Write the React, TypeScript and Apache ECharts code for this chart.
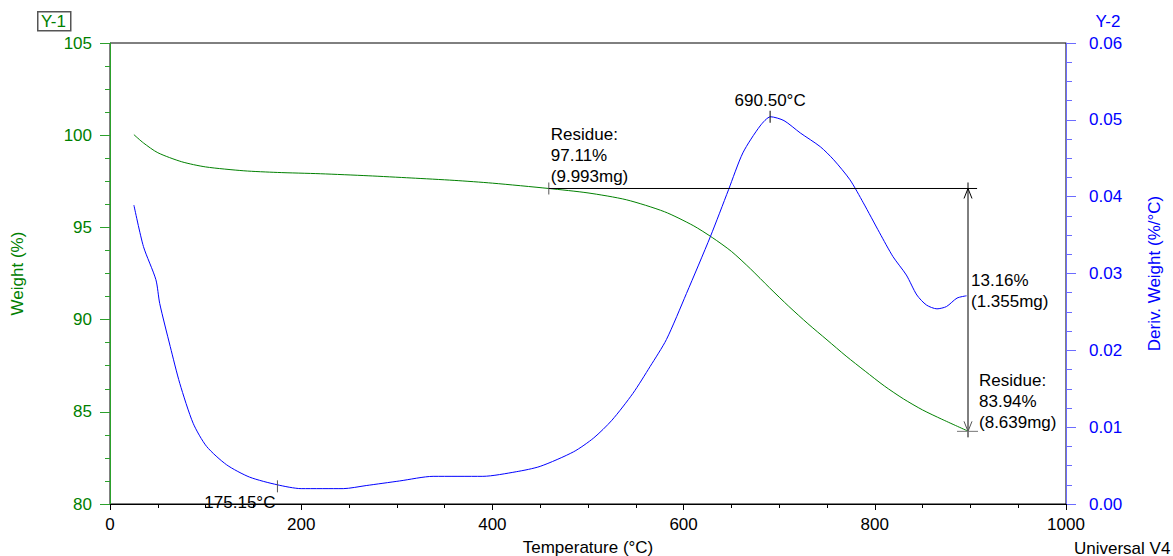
import React, { useEffect, useRef } from 'react';
import * as echarts from 'echarts';

const FONT = '"Liberation Sans", Arial, sans-serif';

// Weight (%) vs temperature (°C)
const weightTemps = [25, 35, 50, 75, 100, 140, 175, 220, 270, 315, 360, 400, 459, 500, 540, 580, 610, 630, 650, 670, 690, 710, 730, 750, 770, 790, 810, 830, 850, 870, 898];
const weightValues = [100.03, 99.58, 99.05, 98.56, 98.28, 98.07, 97.98, 97.91, 97.8, 97.68, 97.55, 97.4, 97.11, 96.87, 96.5, 95.85, 95.1, 94.45, 93.7, 92.75, 91.72, 90.72, 89.78, 88.9, 88.02, 87.2, 86.4, 85.7, 85.1, 84.6, 83.94];

// Deriv. weight (%/°C) vs temperature (°C)
const derivTemps = [25, 35, 48, 52, 63, 73, 87, 101, 122, 146, 175, 200, 244, 268, 303, 338, 390, 425, 450, 485, 506, 525, 547, 565, 582, 603, 628, 647, 662, 680, 691, 705, 722, 743, 757, 774, 788, 805, 819, 833, 844, 854, 865, 875, 886, 896];
const derivValues = [0.0389, 0.0335, 0.0292, 0.0261, 0.0205, 0.0157, 0.0105, 0.0075, 0.0051, 0.0035, 0.0025, 0.002, 0.002, 0.0024, 0.003, 0.0036, 0.0036, 0.0042, 0.0049, 0.0068, 0.0086, 0.0109, 0.0144, 0.0179, 0.0214, 0.0274, 0.0348, 0.0409, 0.0457, 0.0492, 0.0504, 0.0499, 0.0483, 0.0465, 0.0448, 0.0422, 0.0392, 0.0353, 0.0322, 0.0298, 0.0272, 0.0259, 0.0254, 0.0257, 0.0268, 0.0271];

// Annotations
const residueMark = [459, 97.11];
const residueLineEnd = 907;
const finalMark = [897.5, 83.94];
const residue1Text = 'Residue:\n97.11%\n(9.993mg)';
const lossText = '13.16%\n(1.355mg)';
const residue2Text = 'Residue:\n83.94%\n(8.639mg)';
const peakMark = [690.5, 0.0504];
const peakText = '690.50°C';
const minMark = [175.15, 0.0023];
const minText = '175.15°C';

const xTicks = { min: 0, max: 1000, interval: 200 };
const y1Ticks = { min: 80, max: 105, interval: 5 };
const y2Ticks = { min: 0, max: 0.06, interval: 0.01 };

const txt = (x: number, y: number, text: string, align: string, vAlign: string, fill = '#000') => ({
  type: 'text',
  x,
  y,
  silent: true,
  style: { text, fill, fontSize: 17, fontFamily: FONT, align, verticalAlign: vAlign, lineHeight: 21 },
});
const ln = (x1: number, y1: number, x2: number, y2: number, stroke = '#000') => ({
  type: 'line',
  silent: true,
  shape: { x1, y1, x2, y2 },
  style: { stroke, lineWidth: 1 },
});

export default function App() {
  const ref = useRef<HTMLDivElement>(null);
  useEffect(() => {
    const chart = echarts.init(ref.current!, null, { renderer: 'svg' });
    chart.setOption({
      animation: false,
      textStyle: { fontFamily: FONT },
      grid: { left: 110, right: 107, top: 43, bottom: 52, show: true, borderColor: '#000', borderWidth: 1, backgroundColor: 'transparent', containLabel: false, outerBoundsMode: 'none' },
      xAxis: {
        type: 'value',
        ...xTicks,
        name: 'Temperature (°C)',
        nameLocation: 'middle',
        nameGap: 35,
        nameTextStyle: { color: '#000', fontSize: 17, fontFamily: FONT },
        axisLine: { show: true, lineStyle: { color: '#000', width: 1 } },
        axisTick: { show: true, length: 6, lineStyle: { color: '#000' } },
        minorTick: { show: true, splitNumber: 4, length: 4, lineStyle: { color: '#000' } },
        axisLabel: { color: '#000', fontSize: 17, margin: 12, fontFamily: FONT, formatter: (v: number) => String(v) },
        splitLine: { show: false },
      },
      yAxis: [
        {
          type: 'value',
          position: 'left',
          ...y1Ticks,
          name: 'Weight (%)',
          nameLocation: 'middle',
          nameRotate: 90,
          nameGap: 84,
          nameTextStyle: { color: '#008000', fontSize: 17, fontFamily: FONT },
          axisLine: { show: true, lineStyle: { color: '#2ca02c', width: 1 } },
          axisTick: { show: true, length: 10, lineStyle: { color: '#2ca02c' } },
          minorTick: { show: true, splitNumber: 4, length: 5, lineStyle: { color: '#2ca02c' } },
          axisLabel: { color: '#008000', fontSize: 17, margin: 18, fontFamily: FONT },
          splitLine: { show: false },
        },
        {
          type: 'value',
          position: 'right',
          ...y2Ticks,
          name: 'Deriv. Weight (%/°C)',
          nameLocation: 'middle',
          nameRotate: 90,
          nameGap: 80,
          nameTextStyle: { color: '#0000ff', fontSize: 17, fontFamily: FONT },
          axisLine: { show: true, lineStyle: { color: '#6b6bff', width: 1 } },
          axisTick: { show: true, length: 10, lineStyle: { color: '#6b6bff' } },
          minorTick: { show: true, splitNumber: 4, length: 6, lineStyle: { color: '#6b6bff' } },
          axisLabel: { color: '#0000ff', fontSize: 17, margin: 23, fontFamily: FONT, formatter: (v: number) => v.toFixed(2) },
          splitLine: { show: false },
        },
      ],
      graphic: [
        { type: 'rect', left: 37, top: 11, shape: { width: 33, height: 19 }, style: { fill: '#fff', stroke: '#555', lineWidth: 1.5 } },
        { type: 'text', x: 53.5, y: 21, style: { text: 'Y-1', fill: '#008000', fontSize: 17, fontFamily: FONT, align: 'center', verticalAlign: 'middle' } },
        { type: 'text', x: 1108, y: 21, style: { text: 'Y-2', fill: '#0000ff', fontSize: 17, fontFamily: FONT, align: 'center', verticalAlign: 'middle' } },
        { type: 'text', x: 1074, y: 548, style: { text: 'Universal V4', fill: '#000', fontSize: 17, fontFamily: FONT, align: 'left', verticalAlign: 'middle' } },
      ],
      series: [
        {
          type: 'line',
          name: 'Weight',
          yAxisIndex: 0,
          data: weightTemps.map((t, i) => [t, weightValues[i]]),
          showSymbol: false,
          smooth: 0.25,
          lineStyle: { color: '#008000', width: 1 },
          itemStyle: { color: '#008000' },
        },
        {
          type: 'line',
          name: 'Deriv. Weight',
          yAxisIndex: 1,
          data: derivTemps.map((t, i) => [t, derivValues[i]]),
          showSymbol: false,
          smooth: 0.25,
          lineStyle: { color: '#0000ff', width: 1 },
          itemStyle: { color: '#0000ff' },
        },
        {
          type: 'custom',
          yAxisIndex: 0,
          silent: true,
          clip: false,
          z: 5,
          data: [residueMark],
          renderItem: (_p: any, api: any) => {
            const a = api.coord(residueMark);
            const e = api.coord([residueLineEnd, residueMark[1]]);
            const f = api.coord(finalMark);
            const midY = (a[1] + f[1]) / 2;
            return {
              type: 'group',
              children: [
                ln(a[0], a[1] - 6, a[0], a[1] + 6, '#555'),
                ln(a[0], a[1], e[0], a[1]),
                ln(f[0], a[1] - 6, f[0], f[1] + 6),
                { type: 'polyline', silent: true, shape: { points: [[f[0] - 4, a[1] + 10], [f[0], a[1]], [f[0] + 4, a[1] + 10]] }, style: { stroke: '#000', fill: null, lineWidth: 1 } },
                { type: 'polyline', silent: true, shape: { points: [[f[0] - 4, f[1] - 10], [f[0], f[1]], [f[0] + 4, f[1] - 10]] }, style: { stroke: '#555', fill: null, lineWidth: 1 } },
                ln(f[0] - 11, f[1], f[0] + 10, f[1], '#777'),
                txt(a[0] + 2, a[1] - 1, residue1Text, 'left', 'bottom'),
                txt(f[0] + 3, midY + 2, lossText, 'left', 'bottom'),
                txt(f[0] + 11, f[1] + 2, residue2Text, 'left', 'bottom'),
              ],
            };
          },
        },
        {
          type: 'custom',
          yAxisIndex: 1,
          silent: true,
          clip: false,
          z: 5,
          data: [peakMark],
          renderItem: (_p: any, api: any) => {
            const p = api.coord(peakMark);
            const m = api.coord(minMark);
            return {
              type: 'group',
              children: [
                ln(p[0], p[1] - 6, p[0], p[1] + 6),
                txt(p[0], p[1] - 6, peakText, 'center', 'bottom'),
                ln(m[0], m[1] - 6, m[0], m[1] + 6, '#555'),
                txt(m[0] - 2, m[1] + 6, minText, 'right', 'top'),
              ],
            };
          },
        },
      ],
    });
    return () => chart.dispose();
  }, []);
  return <div ref={ref} style={{ position: 'absolute', left: 0, top: 0, width: 1173, height: 556 }} />;
}
